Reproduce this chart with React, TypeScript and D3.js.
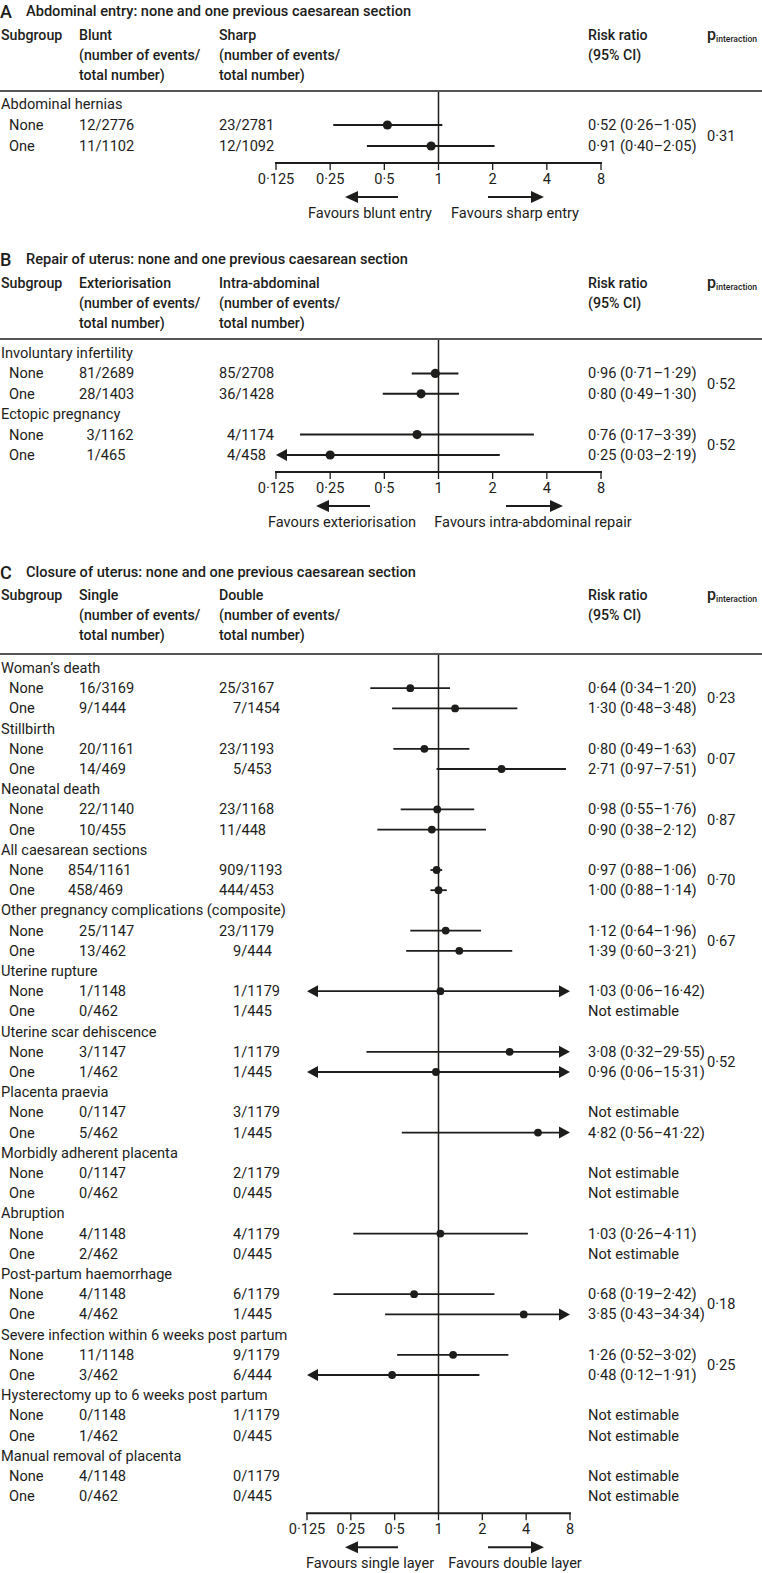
import * as d3 from 'd3';

const tickValues = [0.125, 0.25, 0.5, 1, 2, 4, 8];
const subgroups = ['None', 'One'];

// Panel A
const aOutcomes = ['Abdominal hernias'];
const aArm1 = [['12/2776', '11/1102']];
const aArm2 = [['23/2781', '12/1092']];
const aRR = [[0.52, 0.91]];
const aLow = [[0.26, 0.4]];
const aHigh = [[1.05, 2.05]];
const aP = [0.31];

// Panel B
const bOutcomes = ['Involuntary infertility', 'Ectopic pregnancy'];
const bArm1 = [['81/2689', '28/1403'], ['3/1162', '1/465']];
const bArm2 = [['85/2708', '36/1428'], ['4/1174', '4/458']];
const bRR = [[0.96, 0.8], [0.76, 0.25]];
const bLow = [[0.71, 0.49], [0.17, 0.03]];
const bHigh = [[1.29, 1.3], [3.39, 2.19]];
const bP = [0.52, 0.52];

// Panel C
const cOutcomes = [
  'Woman’s death',
  'Stillbirth',
  'Neonatal death',
  'All caesarean sections',
  'Other pregnancy complications (composite)',
  'Uterine rupture',
  'Uterine scar dehiscence',
  'Placenta praevia',
  'Morbidly adherent placenta',
  'Abruption',
  'Post-partum haemorrhage',
  'Severe infection within 6 weeks post partum',
  'Hysterectomy up to 6 weeks post partum',
  'Manual removal of placenta',
];
const cArm1 = [
  ['16/3169', '9/1444'], ['20/1161', '14/469'], ['22/1140', '10/455'], ['854/1161', '458/469'],
  ['25/1147', '13/462'], ['1/1148', '0/462'], ['3/1147', '1/462'], ['0/1147', '5/462'],
  ['0/1147', '0/462'], ['4/1148', '2/462'], ['4/1148', '4/462'], ['11/1148', '3/462'],
  ['0/1148', '1/462'], ['4/1148', '0/462'],
];
const cArm2 = [
  ['25/3167', '7/1454'], ['23/1193', '5/453'], ['23/1168', '11/448'], ['909/1193', '444/453'],
  ['23/1179', '9/444'], ['1/1179', '1/445'], ['1/1179', '1/445'], ['3/1179', '1/445'],
  ['2/1179', '0/445'], ['4/1179', '0/445'], ['6/1179', '1/445'], ['9/1179', '6/444'],
  ['1/1179', '0/445'], ['0/1179', '0/445'],
];
const cRR = [
  [0.64, 1.3], [0.8, 2.71], [0.98, 0.9], [0.97, 1.0], [1.12, 1.39], [1.03, null], [3.08, 0.96],
  [null, 4.82], [null, null], [1.03, null], [0.68, 3.85], [1.26, 0.48], [null, null], [null, null],
];
const cLow = [
  [0.34, 0.48], [0.49, 0.97], [0.55, 0.38], [0.88, 0.88], [0.64, 0.6], [0.06, null], [0.32, 0.06],
  [null, 0.56], [null, null], [0.26, null], [0.19, 0.43], [0.52, 0.12], [null, null], [null, null],
];
const cHigh = [
  [1.2, 3.48], [1.63, 7.51], [1.76, 2.12], [1.06, 1.14], [1.96, 3.21], [16.42, null], [29.55, 15.31],
  [null, 41.22], [null, null], [4.11, null], [2.42, 34.34], [3.02, 1.91], [null, null], [null, null],
];
const cP = [0.23, 0.07, 0.87, 0.7, 0.67, null, 0.52, null, null, null, 0.18, 0.25, null, null];

const FONT = "Roboto, 'Liberation Sans', Arial, sans-serif";
const INK = '#1d1d1b';
const FS = 14.6;

const dot = (v: number) => String(v).replace('.', '·');
const f2 = (v: number) => d3.format('.2f')(v).replace('.', '·');

type Panel = {
  letter: string; title: string; arm1: string; arm2: string; favL: string; favR: string;
  outcomes: string[]; ev1: string[][]; ev2: string[][];
  rr: (number | null)[][]; lo: (number | null)[][]; hi: (number | null)[][]; p: (number | null)[];
  // layout
  titleY: number; headY: number; ruleY: number; firstY: number; rowH: number;
  range: [number, number]; favLx: [number, number]; favRx: [number, number]; favCx: [number, number];
  dotR: number; ciW: number; pad1: [number, number]; pad3: [number, number];
};

const panels: Panel[] = [
  {
    letter: 'A', title: 'Abdominal entry: none and one previous caesarean section',
    arm1: 'Blunt', arm2: 'Sharp', favL: 'Favours blunt entry', favR: 'Favours sharp entry',
    outcomes: aOutcomes, ev1: aArm1, ev2: aArm2, rr: aRR, lo: aLow, hi: aHigh, p: aP,
    titleY: 15.5, headY: 39.5, ruleY: 91, firstY: 104, rowH: 21,
    range: [276, 601], favLx: [345, 398], favRx: [488, 544], favCx: [370, 515],
    dotR: 4.6, ciW: 2, pad1: [7.5, 8], pad3: [0, 0],
  },
  {
    letter: 'B', title: 'Repair of uterus: none and one previous caesarean section',
    arm1: 'Exteriorisation', arm2: 'Intra-abdominal', favL: 'Favours exteriorisation', favR: 'Favours intra-abdominal repair',
    outcomes: bOutcomes, ev1: bArm1, ev2: bArm2, rr: bRR, lo: bLow, hi: bHigh, p: bP,
    titleY: 263.5, headY: 288, ruleY: 339, firstY: 353, rowH: 20.4,
    range: [276, 601], favLx: [316, 370], favRx: [506, 563], favCx: [342, 533],
    dotR: 4.6, ciW: 2, pad1: [7.5, 8], pad3: [0, 0],
  },
  {
    letter: 'C', title: 'Closure of uterus: none and one previous caesarean section',
    arm1: 'Single', arm2: 'Double', favL: 'Favours single layer', favR: 'Favours double layer',
    outcomes: cOutcomes, ev1: cArm1, ev2: cArm2, rr: cRR, lo: cLow, hi: cHigh, p: cP,
    titleY: 577, headY: 600, ruleY: 654, firstY: 668, rowH: 20.2,
    range: [307, 570], favLx: [345, 398], favRx: [488, 544], favCx: [370, 515],
    dotR: 3.9, ciW: 1.8, pad1: [0, 14], pad3: [-11, 0],
  },
];

const COL = { sub: 1, row: 9, arm1: 79, arm2: 219, rr: 588, p: 707 };

function cellOffset(s: string, pad1: number, pad3: number) {
  const n = s.split('/')[0].length;
  return n === 1 ? pad1 : n >= 3 ? pad3 : 0;
}

function ForestPanel({ d }: { d: Panel }) {
  const x = d3.scaleLog().base(2).domain([0.125, 8]).range(d.range);
  const nRows = d.outcomes.length * 3;
  const y = d3.scaleLinear().domain([0, 1]).range([d.firstY, d.firstY + d.rowH]);
  const axisY = y(nRows - 1) + 17;
  const [xmin, xmax] = x.domain();
  const aLen = 11;
  const aHalf = 6;

  const rows: JSX.Element[] = [];
  d.outcomes.forEach((name, g) => {
    rows.push(
      <text key={`g${g}`} x={COL.sub} y={y(3 * g) + 5}>{name}</text>
    );
    subgroups.forEach((sg, s) => {
      const yy = y(3 * g + 1 + s);
      const e1 = d.ev1[g][s];
      const e2 = d.ev2[g][s];
      const rr = d.rr[g][s];
      const lo = d.lo[g][s];
      const hi = d.hi[g][s];
      rows.push(
        <g key={`r${g}-${s}`}>
          <text x={COL.row} y={yy + 5}>{sg}</text>
          <text x={COL.arm1 + cellOffset(e1, d.pad1[0], d.pad3[0])} y={yy + 5}>{e1}</text>
          <text x={COL.arm2 + cellOffset(e2, d.pad1[1], d.pad3[1])} y={yy + 5}>{e2}</text>
          <text x={COL.rr} y={yy + 5}>
            {rr == null ? 'Not estimable' : `${f2(rr)} (${f2(lo!)}–${f2(hi!)})`}
          </text>
        </g>
      );
      if (rr != null && lo != null && hi != null) {
        const clipL = lo < xmin;
        const clipR = hi > xmax;
        const x1 = x(Math.max(lo, xmin));
        const x2 = x(Math.min(hi, xmax));
        rows.push(
          <g key={`ci${g}-${s}`}>
            <line x1={clipL ? x1 + aLen - 1 : x1} x2={clipR ? x2 - aLen + 1 : x2} y1={yy} y2={yy}
              stroke={INK} strokeWidth={d.ciW} />
            {clipL && (
              <path d={`M${x1},${yy}L${x1 + aLen},${yy - aHalf}L${x1 + aLen},${yy + aHalf}Z`} fill={INK} />
            )}
            {clipR && (
              <path d={`M${x2},${yy}L${x2 - aLen},${yy - aHalf}L${x2 - aLen},${yy + aHalf}Z`} fill={INK} />
            )}
            <circle cx={x(rr)} cy={yy} r={d.dotR} fill={INK} />
          </g>
        );
      }
    });
    const p = d.p[g];
    if (p != null) {
      rows.push(
        <text key={`p${g}`} x={COL.p} y={(y(3 * g + 1) + y(3 * g + 2)) / 2 + 5}>{f2(p)}</text>
      );
    }
  });

  const hy = [d.headY, d.headY + 20, d.headY + 40];
  const favY = axisY + 34;
  const fl = 13;

  return (
    <g>
      <text x={0} y={d.titleY + 2} fontSize={18} fontWeight={500}>{d.letter}</text>
      <text x={26} y={d.titleY} fontWeight={500}>{d.title}</text>

      <g fontWeight={500} fontSize={14.2}>
        <text x={COL.sub} y={hy[0]}>Subgroup</text>
        <text x={COL.arm1} y={hy[0]}>{d.arm1}</text>
        <text x={COL.arm1} y={hy[1]}>(number of events/</text>
        <text x={COL.arm1} y={hy[2]}>total number)</text>
        <text x={COL.arm2} y={hy[0]}>{d.arm2}</text>
        <text x={COL.arm2} y={hy[1]}>(number of events/</text>
        <text x={COL.arm2} y={hy[2]}>total number)</text>
        <text x={COL.rr} y={hy[0]}>Risk ratio</text>
        <text x={COL.rr} y={hy[1]}>(95% CI)</text>
        <text x={COL.p} y={hy[0]} fontSize={16}>
          p<tspan fontSize={8.6} dy={2}>interaction</tspan>
        </text>
      </g>

      <line x1={0} x2={762} y1={d.ruleY} y2={d.ruleY} stroke={INK} strokeWidth={1.5} />
      <line x1={x(1)} x2={x(1)} y1={d.ruleY + 1} y2={axisY} stroke={INK} strokeWidth={1.5} />

      {rows}

      <line x1={x(xmin) - 1} x2={x(xmax) + 1} y1={axisY} y2={axisY} stroke={INK} strokeWidth={2} />
      {tickValues.map((t) => (
        <g key={t}>
          <line x1={x(t)} x2={x(t)} y1={axisY} y2={axisY + 7} stroke={INK} strokeWidth={1.3} />
          <text x={x(t)} y={axisY + 21} textAnchor="middle">{dot(t)}</text>
        </g>
      ))}

      <line x1={d.favLx[0] + fl - 1} x2={d.favLx[1]} y1={favY} y2={favY} stroke={INK} strokeWidth={2} />
      <path d={`M${d.favLx[0]},${favY}L${d.favLx[0] + fl},${favY - 6}L${d.favLx[0] + fl},${favY + 6}Z`} fill={INK} />
      <line x1={d.favRx[0]} x2={d.favRx[1] - fl + 1} y1={favY} y2={favY} stroke={INK} strokeWidth={2} />
      <path d={`M${d.favRx[1]},${favY}L${d.favRx[1] - fl},${favY - 6}L${d.favRx[1] - fl},${favY + 6}Z`} fill={INK} />
      <text x={d.favCx[0]} y={favY + 21} textAnchor="middle">{d.favL}</text>
      <text x={d.favCx[1]} y={favY + 21} textAnchor="middle">{d.favR}</text>
    </g>
  );
}

export default function App() {
  return (
    <svg
      width={762}
      height={1573}
      style={{ position: 'absolute', left: 0, top: 0, background: '#fff' }}
      fontFamily={FONT}
      fontSize={FS}
      fill={INK}
    >
      {panels.map((p) => (
        <ForestPanel key={p.letter} d={p} />
      ))}
    </svg>
  );
}
